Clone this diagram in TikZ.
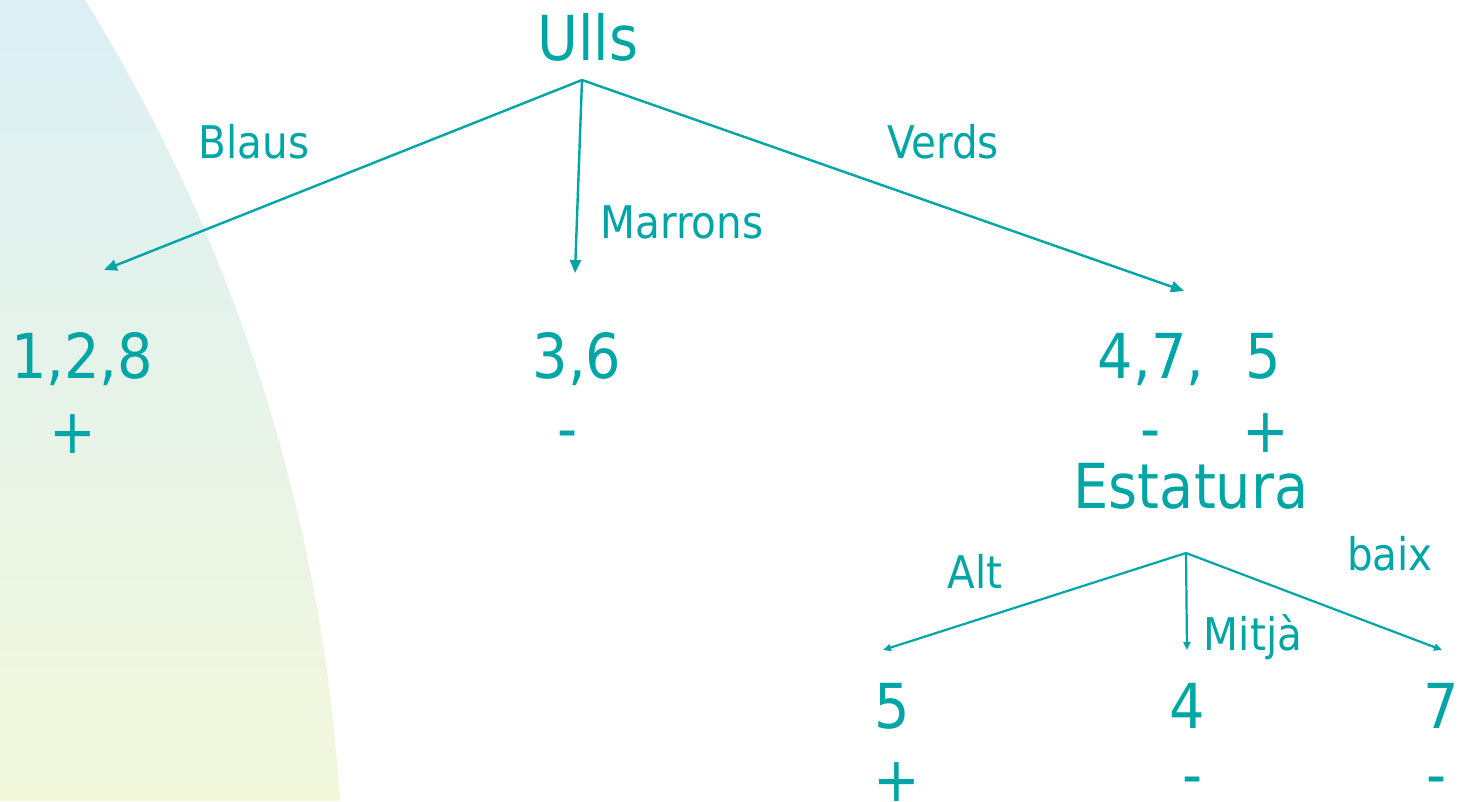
\documentclass[tikz,border=0pt]{standalone}
\usepackage{fontspec}
\setmainfont{DejaVu Sans Condensed}
\usetikzlibrary{arrows.meta}
\definecolor{teal1}{RGB}{0,166,166}
\definecolor{bgtop}{RGB}{219,239,245}
\definecolor{bgbot}{RGB}{243,248,220}
\begin{document}
\begin{tikzpicture}[x=1pt,y=-1pt,
  big/.style={text=teal1,inner sep=0,anchor=base,font=\fontsize{62}{70}\selectfont},
  lbl/.style={text=teal1,inner sep=0,anchor=base,font=\fontsize{45}{54}\selectfont},
  arr/.style={draw=teal1,line width=2.4pt,-{Triangle[length=13pt,width=11pt]}},
  arrs/.style={draw=teal1,line width=2.2pt,-{Triangle[length=8pt,width=7pt]}}]
\useasboundingbox (0,0) rectangle (1461,801);
\shade[top color=bgtop,bottom color=bgbot] (0,0) -- (85,0) arc[start angle=31.8, end angle=3.5, radius=1719.5pt] -- (0,801) -- cycle;
% first level
\node[big] (ulls) at (588,60) {Ulls};
\coordinate (top) at (582,80);
\coordinate (tA) at (104,270);
\coordinate (tB) at (575,273);
\coordinate (tC) at (1184,291);
\draw[arr] (top) -- (tA);
\draw[arr] (top) -- (tB);
\draw[arr] (top) -- (tC);
\node[lbl] (blaus) at (254,158) {Blaus};
\node[lbl] (marrons) at (682,238) {Marrons};
\node[lbl] (verds) at (943,158) {Verds};
\node[big] (n128) at (82,378) {1,2,8};
\node[big] (p1) at (73,453) {+};
\node[big] (n36) at (577,378) {3,6};
\node[big] (m1) at (568,450) {-};
\node[big] (n47) at (1151,378) {4,7,};
\node[big] (n5) at (1263,378) {5};
\node[big] (m2) at (1151,450) {-};
\node[big] (p2) at (1266,452) {+};
% second level
\node[big] (est) at (1191,508) {Estatura};
\coordinate (top2) at (1186,553);
\coordinate (uA) at (883,650);
\coordinate (uB) at (1187,650);
\coordinate (uC) at (1442,650);
\draw[arrs] (top2) -- (uA);
\draw[arrs] (top2) -- (uB);
\draw[arrs] (top2) -- (uC);
\node[lbl] (alt) at (975,588) {Alt};
\node[lbl] (mitja) at (1253,650) {Mitjà};
\node[lbl] (baix) at (1390,570) {baix};
\node[big] (b5) at (892,728) {5};
\node[big] (b4) at (1187,728) {4};
\node[big] (b7) at (1441,728) {7};
\node[big] (p3) at (897,801) {+};
\node[big] (m3) at (1193,796) {-};
\node[big] (m4) at (1437,796) {-};
\end{tikzpicture}
\end{document}
